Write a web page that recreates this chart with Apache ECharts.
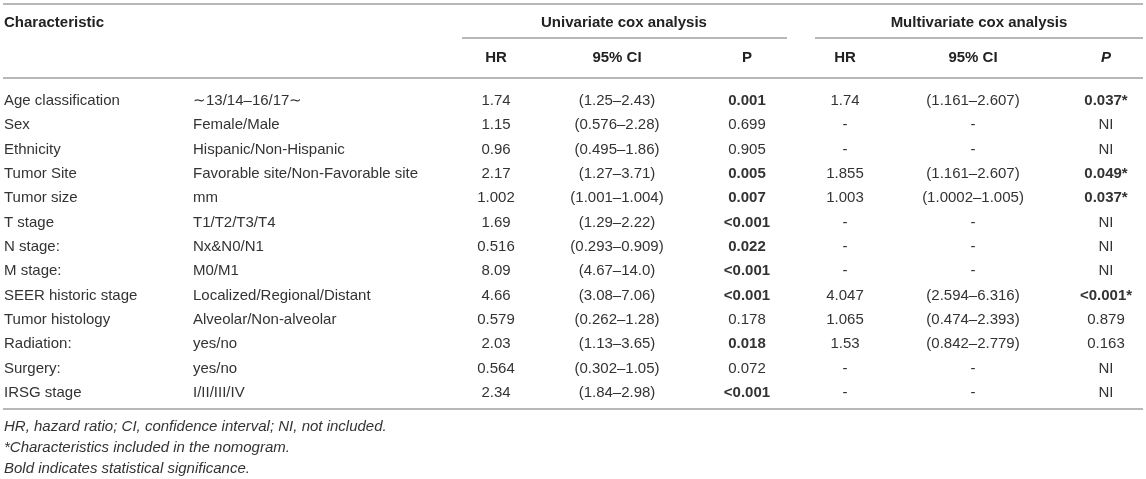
<!DOCTYPE html>
<html>
<head>
<meta charset="utf-8">
<script src="https://cdn.jsdelivr.net/npm/echarts@6/dist/echarts.min.js"></script>
<style>
  html, body { margin: 0; padding: 0; background: #fff; }
  #table-box { width: 1146px; height: 479px; }
</style>
</head>
<body>
<div id="table-box"></div>
<script>
var characteristics = ['Age classification', 'Sex', 'Ethnicity', 'Tumor Site', 'Tumor size', 'T stage', 'N stage:', 'M stage:', 'SEER historic stage', 'Tumor histology', 'Radiation:', 'Surgery:', 'IRSG stage'];
var levels = ['\u223C13/14\u201316/17\u223C', 'Female/Male', 'Hispanic/Non-Hispanic', 'Favorable site/Non-Favorable site', 'mm', 'T1/T2/T3/T4', 'Nx&N0/N1', 'M0/M1', 'Localized/Regional/Distant', 'Alveolar/Non-alveolar', 'yes/no', 'yes/no', 'I/II/III/IV'];
var uniHR = ['1.74', '1.15', '0.96', '2.17', '1.002', '1.69', '0.516', '8.09', '4.66', '0.579', '2.03', '0.564', '2.34'];
var uniCI = ['(1.25\u20132.43)', '(0.576\u20132.28)', '(0.495\u20131.86)', '(1.27\u20133.71)', '(1.001\u20131.004)', '(1.29\u20132.22)', '(0.293\u20130.909)', '(4.67\u201314.0)', '(3.08\u20137.06)', '(0.262\u20131.28)', '(1.13\u20133.65)', '(0.302\u20131.05)', '(1.84\u20132.98)'];
var uniP = ['0.001', '0.699', '0.905', '0.005', '0.007', '<0.001', '0.022', '<0.001', '<0.001', '0.178', '0.018', '0.072', '<0.001'];
var uniSig = [1, 0, 0, 1, 1, 1, 1, 1, 1, 0, 1, 0, 1];
var multiHR = ['1.74', '-', '-', '1.855', '1.003', '-', '-', '-', '4.047', '1.065', '1.53', '-', '-'];
var multiCI = ['(1.161\u20132.607)', '-', '-', '(1.161\u20132.607)', '(1.0002\u20131.005)', '-', '-', '-', '(2.594\u20136.316)', '(0.474\u20132.393)', '(0.842\u20132.779)', '-', '-'];
var multiP = ['0.037*', 'NI', 'NI', '0.049*', '0.037*', 'NI', 'NI', 'NI', '<0.001*', '0.879', '0.163', 'NI', 'NI'];
var multiSig = [1, 0, 0, 1, 1, 0, 0, 0, 1, 0, 0, 0, 0];
var footnotes = ['HR, hazard ratio; CI, confidence interval; NI, not included.', '*Characteristics included in the nomogram.', 'Bold indicates statistical significance.'];

var FONT = '"Liberation Sans", Arial, Helvetica, sans-serif';
var TEXT = '#333';
var RULE = '#b8b8b8';

// column anchors (px)
var colX = { name: 4, level: 193, uHR: 496, uCI: 617, uP: 747, mHR: 845, mCI: 973, mP: 1106 };

var myChart = echarts.init(document.getElementById('table-box'));

function cell(x, y, text, align, bold, italic, fill) {
    return {
        type: 'text',
        x: x,
        y: y,
        style: {
            text: text,
            align: align,
            verticalAlign: 'middle',
            fill: fill || TEXT,
            fontFamily: FONT,
            fontSize: 15,
            fontWeight: bold ? 'bold' : 'normal',
            fontStyle: italic ? 'italic' : 'normal'
        }
    };
}

function rule(x1, x2, y) {
    return {
        type: 'line',
        shape: { x1: x1, y1: y, x2: x2, y2: y },
        style: { stroke: RULE, lineWidth: 2 }
    };
}

var renderRow = function (params, api) {
    var i = api.value(1);
    var y = api.coord([0, i])[1];
    return {
        type: 'group',
        children: [
            cell(colX.name, y, characteristics[i], 'left'),
            cell(colX.level, y, levels[i], 'left'),
            cell(colX.uHR, y, uniHR[i], 'center'),
            cell(colX.uCI, y, uniCI[i], 'center'),
            cell(colX.uP, y, uniP[i], 'center', uniSig[i]),
            cell(colX.mHR, y, multiHR[i], 'center'),
            cell(colX.mCI, y, multiCI[i], 'center'),
            cell(colX.mP, y, multiP[i], 'center', multiSig[i])
        ]
    };
};

var rows = characteristics.map(function (c, i) { return [0, i]; });

var graphics = [
    rule(3, 1143, 4),
    cell(colX.name, 23, 'Characteristic', 'left', true, false, '#222'),
    cell(624, 23, 'Univariate cox analysis', 'center', true, false, '#222'),
    cell(979, 23, 'Multivariate cox analysis', 'center', true, false, '#222'),
    rule(462, 787, 38),
    rule(815, 1143, 38),
    cell(colX.uHR, 58, 'HR', 'center', true, false, '#222'),
    cell(colX.uCI, 58, '95% CI', 'center', true, false, '#222'),
    cell(colX.uP, 58, 'P', 'center', true, false, '#222'),
    cell(colX.mHR, 58, 'HR', 'center', true, false, '#222'),
    cell(colX.mCI, 58, '95% CI', 'center', true, false, '#222'),
    cell(colX.mP, 58, 'P', 'center', true, true, '#222'),
    rule(3, 1143, 78),
    rule(3, 1143, 409)
];
for (var k = 0; k < footnotes.length; k++) {
    graphics.push(cell(colX.name, 427 + k * 21, footnotes[k], 'left', false, true));
}

myChart.setOption({
    animation: false,
    grid: { left: 0, right: 0, top: 88.8, bottom: 73.8 },
    xAxis: { type: 'value', min: 0, max: 1146, show: false },
    yAxis: { type: 'category', data: characteristics, inverse: true, show: false },
    graphic: graphics,
    series: [{
        type: 'custom',
        renderItem: renderRow,
        encode: { x: 0, y: 1 },
        data: rows,
        silent: true
    }]
});
</script>
</body>
</html>
